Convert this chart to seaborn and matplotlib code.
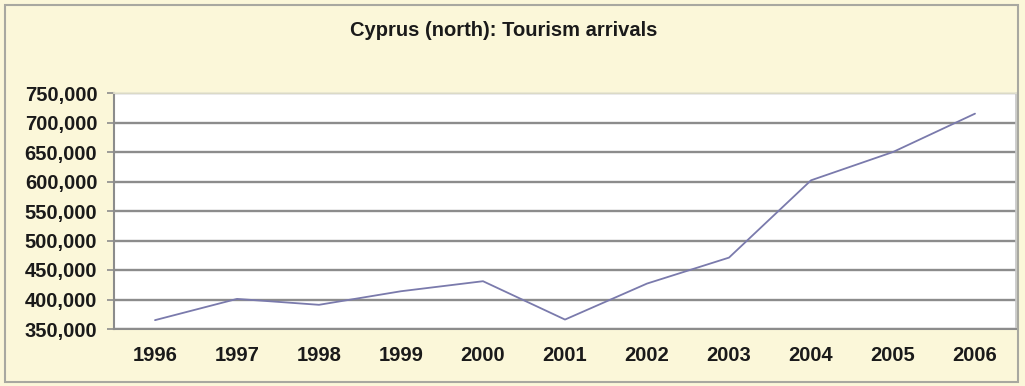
import pandas as pd
import matplotlib.pyplot as plt
import matplotlib.ticker as mticker
import seaborn as sns

# Tourism arrivals, north Cyprus
years = ["1996", "1997", "1998", "1999", "2000", "2001",
         "2002", "2003", "2004", "2005", "2006"]
arrivals = [365000, 401000, 391000, 414000, 431000, 366000,
            427000, 471000, 602000, 650000, 715000]
title = "Cyprus (north): Tourism arrivals"

df = pd.DataFrame({"year": years, "arrivals": arrivals})

sns.set_theme(style="white")
plt.rcParams["font.family"] = ["Liberation Sans", "DejaVu Sans"]

bg = "#FBF7D9"
fig = plt.figure(figsize=(10.25, 3.86), dpi=100, facecolor=bg)
ax = fig.add_axes([114 / 1025, 57 / 386, 902 / 1025, 236 / 386])
ax.set_facecolor("white")

# outer frame round the whole chart
fig.patches.append(plt.Rectangle((5 / 1025, 4 / 386), 1013 / 1025, 377 / 386,
                                 transform=fig.transFigure, fill=False,
                                 edgecolor="#A8A8A0", linewidth=1.5))

sns.lineplot(data=df, x="year", y="arrivals", color="#7A7AAC",
             linewidth=1.3, ax=ax)

ax.set_ylim(350000, 750000)
ax.set_xlim(-0.5, len(years) - 0.5)
ax.set_yticks(range(350000, 750001, 50000))
ax.yaxis.set_major_formatter(mticker.StrMethodFormatter("{x:,.0f}"))
ax.yaxis.grid(True, color="#8C8C8C", linewidth=1.7)
ax.set_axisbelow(True)

# year labels centred, tick marks between categories
ax.set_xticks(range(len(years)))
ax.set_xticklabels(years)
ax.set_xticks([i - 0.5 for i in range(len(years) + 1)], minor=True)
ax.tick_params(axis="x", which="major", length=0, pad=12)
ax.tick_params(axis="x", which="minor", length=5, width=1.2, color="#8C8C8C",
               direction="out")
ax.tick_params(axis="y", length=5, width=1.2, color="#8C8C8C", pad=7,
               direction="out", left=True)
for lab in ax.get_xticklabels() + ax.get_yticklabels():
    lab.set_fontweight("bold")
    lab.set_fontsize(14.5)
    lab.set_color("#1A1A1A")

for side in ["left", "bottom"]:
    ax.spines[side].set_color("#8C8C8C")
    ax.spines[side].set_linewidth(1.5)
ax.spines["right"].set_color("#C8C8C8")
ax.spines["top"].set_color("#E8E6D0")

ax.set_xlabel("")
ax.set_ylabel("")
fig.text(504 / 1025, 1 - 31 / 386, title, ha="center", va="center",
         fontsize=14.5, fontweight="bold", color="#1A1A1A")

fig.savefig("out.png", dpi=100, facecolor=bg)
